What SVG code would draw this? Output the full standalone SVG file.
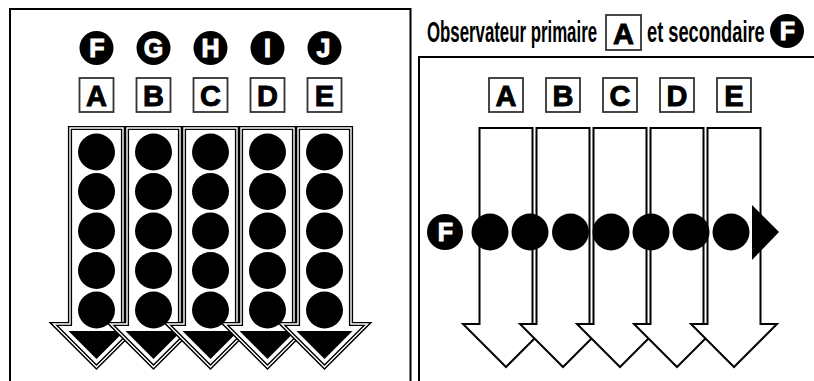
<svg xmlns="http://www.w3.org/2000/svg" width="814" height="381" viewBox="0 0 814 381">
<style>
.panel{fill:none;stroke:#000;stroke-width:2}
.box{fill:#fff;stroke:#333;stroke-width:1.8}
.boxt{font-family:"Liberation Sans",Arial,sans-serif;font-weight:bold;font-size:29px;fill:#000;stroke:#000;stroke-width:0.9;text-anchor:middle}
.circ{fill:#000}
.circt{font-family:"Liberation Sans",Arial,sans-serif;font-weight:bold;font-size:25px;fill:#fff;stroke:#fff;stroke-width:1;text-anchor:middle}
.arrO{fill:#fff;stroke:#000;stroke-width:4.2;stroke-linejoin:miter}
.arrI{fill:none;stroke:#fff;stroke-width:1.4;stroke-linejoin:miter}
.arrS{fill:#fff;stroke:#000;stroke-width:2;stroke-linejoin:miter}
.dot{fill:#000}
.title{font-family:"Liberation Sans",Arial,sans-serif;font-weight:bold;font-size:29px;fill:#000}
</style>
<defs>
<path id="arrow" d="M-26.5,128 H26.5 V324 H43 L0,367 L-43,324 H-26.5 Z"/>
<path id="tri" d="M-28,331 H28 L0,359 Z"/>
</defs>
<rect width="814" height="381" fill="#fff"/>

<!-- Left panel -->
<g id="left-panel">
<path class="panel" d="M10,381 V9 H410.5 V381"/>
<g id="secondary-observers">
<g id="obs-F"><circle class="circ" cx="96.5" cy="48" r="17"/><text class="circt" x="97" y="57">F</text></g>
<g id="obs-G"><circle class="circ" cx="153.5" cy="48" r="17"/><text class="circt" x="153.5" y="57">G</text></g>
<g id="obs-H"><circle class="circ" cx="210.5" cy="48" r="17"/><text class="circt" x="210.5" y="57">H</text></g>
<g id="obs-I"><circle class="circ" cx="267.5" cy="48" r="17"/><text class="circt" x="267.5" y="57">I</text></g>
<g id="obs-J"><circle class="circ" cx="324.5" cy="48" r="17"/><text class="circt" x="323.5" y="57">J</text></g>
</g>
<g id="primary-left">
<g id="L-A"><rect class="box" x="79.5" y="78" width="34" height="34"/><text class="boxt" x="96.5" y="106">A</text></g>
<g id="L-B"><rect class="box" x="136.5" y="78" width="34" height="34"/><text class="boxt" x="153.5" y="106">B</text></g>
<g id="L-C"><rect class="box" x="193.5" y="78" width="34" height="34"/><text class="boxt" x="210.5" y="106">C</text></g>
<g id="L-D"><rect class="box" x="250.5" y="78" width="34" height="34"/><text class="boxt" x="267.5" y="106">D</text></g>
<g id="L-E"><rect class="box" x="307.5" y="78" width="34" height="34"/><text class="boxt" x="324.5" y="106">E</text></g>
</g>
<g id="left-arrows">
<g transform="translate(96.5,0)"><use href="#arrow" class="arrO"/><use href="#arrow" class="arrI"/><use href="#tri" fill="#000"/></g>
<g transform="translate(153.5,0)"><use href="#arrow" class="arrO"/><use href="#arrow" class="arrI"/><use href="#tri" fill="#000"/></g>
<g transform="translate(210.5,0)"><use href="#arrow" class="arrO"/><use href="#arrow" class="arrI"/><use href="#tri" fill="#000"/></g>
<g transform="translate(267.5,0)"><use href="#arrow" class="arrO"/><use href="#arrow" class="arrI"/><use href="#tri" fill="#000"/></g>
<g transform="translate(324.5,0)"><use href="#arrow" class="arrO"/><use href="#arrow" class="arrI"/><use href="#tri" fill="#000"/></g>
</g>
<g id="left-dots" class="dot">
<g transform="translate(96.5,0)"><circle cy="152" r="18.5"/><circle cy="191.5" r="18.5"/><circle cy="231" r="18.5"/><circle cy="270.5" r="18.5"/><circle cy="310" r="18.5"/></g>
<g transform="translate(153.5,0)"><circle cy="152" r="18.5"/><circle cy="191.5" r="18.5"/><circle cy="231" r="18.5"/><circle cy="270.5" r="18.5"/><circle cy="310" r="18.5"/></g>
<g transform="translate(210.5,0)"><circle cy="152" r="18.5"/><circle cy="191.5" r="18.5"/><circle cy="231" r="18.5"/><circle cy="270.5" r="18.5"/><circle cy="310" r="18.5"/></g>
<g transform="translate(267.5,0)"><circle cy="152" r="18.5"/><circle cy="191.5" r="18.5"/><circle cy="231" r="18.5"/><circle cy="270.5" r="18.5"/><circle cy="310" r="18.5"/></g>
<g transform="translate(324.5,0)"><circle cy="152" r="18.5"/><circle cy="191.5" r="18.5"/><circle cy="231" r="18.5"/><circle cy="270.5" r="18.5"/><circle cy="310" r="18.5"/></g>
</g>
</g>

<!-- Right panel -->
<g id="right-panel">
<g id="title">
<text class="title" transform="translate(427,42) scale(0.58,1)">Observateur primaire</text>
<rect class="box" x="606" y="15" width="35" height="35"/><text class="boxt" x="623.5" y="44">A</text>
<text class="title" transform="translate(647,42) scale(0.63,1)">et secondaire</text>
<circle class="circ" cx="787" cy="31" r="17"/><text class="circt" x="787.5" y="40">F</text>
</g>
<path class="panel" d="M419,381 V57 H814"/>
<g id="primary-right">
<g id="R-A"><rect class="box" x="489" y="78" width="34" height="34"/><text class="boxt" x="506" y="106">A</text></g>
<g id="R-B"><rect class="box" x="546" y="78" width="34" height="34"/><text class="boxt" x="563" y="106">B</text></g>
<g id="R-C"><rect class="box" x="603" y="78" width="34" height="34"/><text class="boxt" x="620" y="106">C</text></g>
<g id="R-D"><rect class="box" x="660" y="78" width="34" height="34"/><text class="boxt" x="677" y="106">D</text></g>
<g id="R-E"><rect class="box" x="717" y="78" width="34" height="34"/><text class="boxt" x="734" y="106">E</text></g>
</g>
<g id="right-arrows">
<use href="#arrow" class="arrS" transform="translate(506,0)"/>
<use href="#arrow" class="arrS" transform="translate(563,0)"/>
<use href="#arrow" class="arrS" transform="translate(620,0)"/>
<use href="#arrow" class="arrS" transform="translate(677,0)"/>
<use href="#arrow" class="arrS" transform="translate(734,0)"/>
</g>
<g id="secondary-F-path">
<circle class="circ" cx="445" cy="232" r="18"/><text class="circt" x="445.5" y="241">F</text>
<g class="dot">
<circle cx="490" cy="232" r="18.5"/><circle cx="530" cy="232" r="18.5"/><circle cx="570.5" cy="232" r="18.5"/><circle cx="611" cy="232" r="18.5"/><circle cx="651" cy="232" r="18.5"/><circle cx="691" cy="232" r="18.5"/><circle cx="731" cy="232" r="18.5"/>
<path d="M752,205 L779,232 L752,260 Z"/>
</g>
</g>
</g>
</svg>
